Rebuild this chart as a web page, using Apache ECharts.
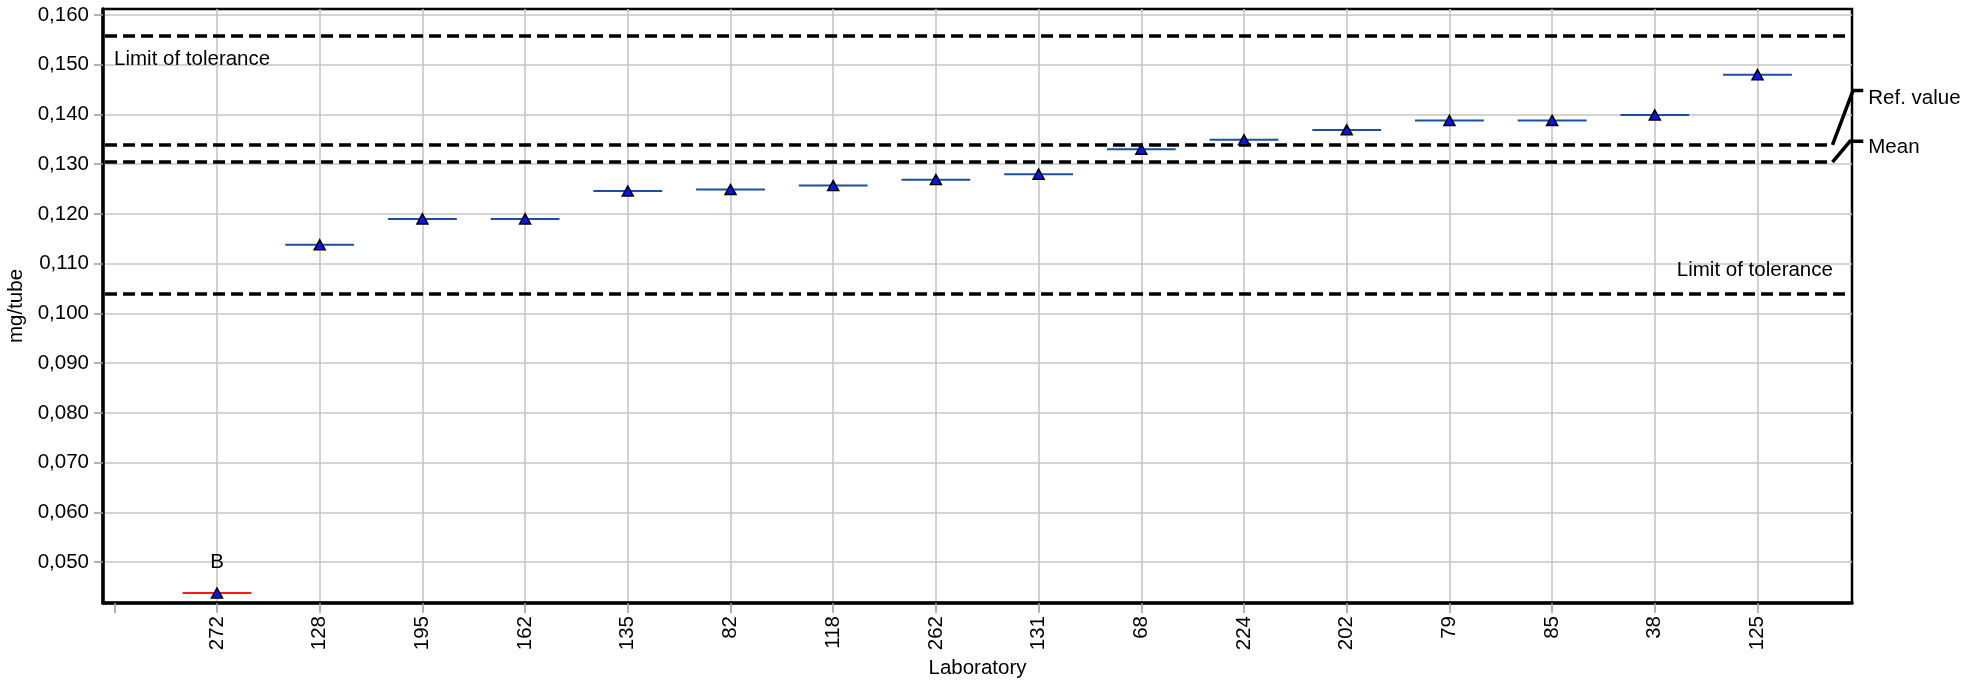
<!DOCTYPE html>
<html>
<head>
<meta charset="utf-8">
<script src="https://cdn.jsdelivr.net/npm/echarts@6/dist/echarts.min.js"></script>
<style>
  html, body { margin: 0; padding: 0; background: #ffffff; }
  #chart { width: 1984px; height: 682px; }
</style>
</head>
<body>
<div id="chart"></div>
<script>
// Laboratory results, sorted ascending
const laboratories = ['272', '128', '195', '162', '135', '82', '118', '262', '131', '68', '224', '202', '79', '85', '38', '125'];
const results = [0.0438, 0.1138, 0.1190, 0.1190, 0.1246, 0.1249, 0.1257, 0.1269, 0.1280, 0.1330, 0.1349, 0.1369, 0.1388, 0.1388, 0.1399, 0.1480];
const flags = ['B', '', '', '', '', '', '', '', '', '', '', '', '', '', '', ''];

// Y axis ticks (mg/tube)
const yTicks = [0.05, 0.06, 0.07, 0.08, 0.09, 0.10, 0.11, 0.12, 0.13, 0.14, 0.15, 0.16];

// Reference levels
const upperLimit = 0.1558;
const refValue = 0.1339;
const meanValue = 0.1304;
const lowerLimit = 0.1039;
const toleranceCaption = 'Limit of tolerance';
const leaderCaptions = ['Ref. value', 'Mean'];

const FONT = "'Liberation Sans', Arial, sans-serif";
const FS = 20.5;
const X_MIN = -0.11, X_MAX = 16.92;
const labTicks = laboratories.map((_, i) => i + 1);
const allTicks = [0].concat(labTicks);

const chart = echarts.init(document.getElementById('chart'), null, { renderer: 'canvas' });

const dashStyle = { color: '#000', width: 3.5, type: [12, 6] };
const textStyle = { fontSize: FS, color: '#000', fontFamily: FONT };

// leader geometry: [level, elbow x, elbow level, caption offset]
const leaders = [
  [refValue, 16.93, 0.1448, 8],
  [meanValue, 16.90, 0.1346, 6]
];

const option = {
  animation: false,
  backgroundColor: '#ffffff',
  textStyle: { fontFamily: FONT },
  grid: {
    left: 103, right: 132, top: 9, bottom: 79,
    show: true, borderColor: '#000', borderWidth: 2.5,
    outerBoundsMode: 'none'
  },
  xAxis: [
    {
      type: 'value', min: X_MIN, max: X_MAX,
      name: 'Laboratory', nameLocation: 'middle', nameGap: 55,
      nameTextStyle: textStyle,
      axisLine: { show: true, onZero: false, lineStyle: { color: '#000', width: 3.5 } },
      axisTick: { show: true, customValues: allTicks, length: 10, lineStyle: { color: '#9a9a9a', width: 1.5 } },
      axisLabel: Object.assign({
        show: true, customValues: labTicks, rotate: 90, margin: 13,
        formatter: v => laboratories[Math.round(v) - 1] || ''
      }, textStyle),
      splitLine: { show: false }
    },
    {
      type: 'value', min: X_MIN, max: X_MAX, position: 'bottom',
      axisLine: { show: false },
      axisTick: { show: false, customValues: labTicks },
      axisLabel: { show: false, customValues: labTicks },
      splitLine: { show: true, lineStyle: { color: '#c6c6c6', width: 1.6 } }
    }
  ],
  yAxis: {
    type: 'value', min: 0.0418, max: 0.1612,
    name: 'mg/tube', nameLocation: 'middle', nameGap: 64,
    nameTextStyle: textStyle,
    axisLine: { show: true, onZero: false, lineStyle: { color: '#000', width: 3.5 } },
    axisTick: { show: true, customValues: yTicks, length: 9, lineStyle: { color: '#9a9a9a', width: 1.5 } },
    axisLabel: Object.assign({
      show: true, customValues: yTicks, margin: 14,
      formatter: v => v.toFixed(3).replace('.', ',')
    }, textStyle),
    splitLine: { show: true, lineStyle: { color: '#c6c6c6', width: 1.6 } }
  },
  series: [
    {
      // reference and tolerance lines
      type: 'scatter', data: [], silent: true, z: 3,
      markLine: {
        silent: true, symbol: ['none', 'none'], animation: false,
        lineStyle: dashStyle,
        label: { show: false },
        data: [
          [
            { coord: [-0.09, upperLimit], label: Object.assign({ show: true, formatter: toleranceCaption, position: 'insideStartBottom', distance: [9, 13] }, textStyle) },
            { coord: [16.89, upperLimit] }
          ],
          [{ coord: [-0.09, refValue] }, { coord: [16.73, refValue] }],
          [{ coord: [-0.09, meanValue] }, { coord: [16.73, meanValue] }],
          [
            { coord: [-0.09, lowerLimit], label: Object.assign({ show: true, formatter: toleranceCaption, position: 'insideEndTop', distance: [16, 13] }, textStyle) },
            { coord: [16.89, lowerLimit] }
          ]
        ]
      }
    },
    {
      // leaders from the reference / mean lines to their captions
      type: 'custom', z: 3, silent: true, clip: false,
      data: leaders.map((l, i) => [i, l[0], l[1], l[2], l[3]]),
      renderItem: function (params, api) {
        const i = api.value(0);
        const start = api.coord([16.73, api.value(1)]);
        const elbow = api.coord([api.value(2), api.value(3)]);
        const end = api.coord([17.03, api.value(3)]);
        return {
          type: 'group',
          children: [
            {
              type: 'polyline',
              shape: { points: [start, elbow, end] },
              style: { stroke: '#000', lineWidth: 3.5, fill: null }
            },
            {
              type: 'text',
              x: end[0] + 5, y: end[1] + api.value(4),
              style: {
                text: leaderCaptions[i], fill: '#000',
                font: FS + 'px ' + FONT,
                align: 'left', verticalAlign: 'middle'
              }
            }
          ]
        };
      }
    },
    {
      // horizontal result bars
      type: 'custom', z: 4, silent: true,
      data: results.map((v, i) => [i + 1, v, flags[i] ? 1 : 0]),
      renderItem: function (params, api) {
        const x = api.value(0), v = api.value(1);
        const p1 = api.coord([x - 0.335, v]);
        const p2 = api.coord([x + 0.335, v]);
        return {
          type: 'line',
          shape: { x1: p1[0], y1: p1[1], x2: p2[0], y2: p2[1] },
          style: { stroke: api.value(2) ? '#ff1a1a' : '#1c4f9e', lineWidth: 2 }
        };
      }
    },
    {
      // result markers
      type: 'scatter', z: 5, silent: true,
      symbol: 'triangle', symbolSize: [11, 10],
      itemStyle: { color: '#0a14f0', borderColor: '#000', borderWidth: 1.5, opacity: 1 },
      label: { show: false },
      data: results.map((v, i) => flags[i]
        ? { value: [i + 1, v], label: Object.assign({ show: true, formatter: flags[i], position: 'top', distance: 14 }, textStyle) }
        : { value: [i + 1, v] })
    }
  ]
};

chart.setOption(option);
</script>
</body>
</html>
